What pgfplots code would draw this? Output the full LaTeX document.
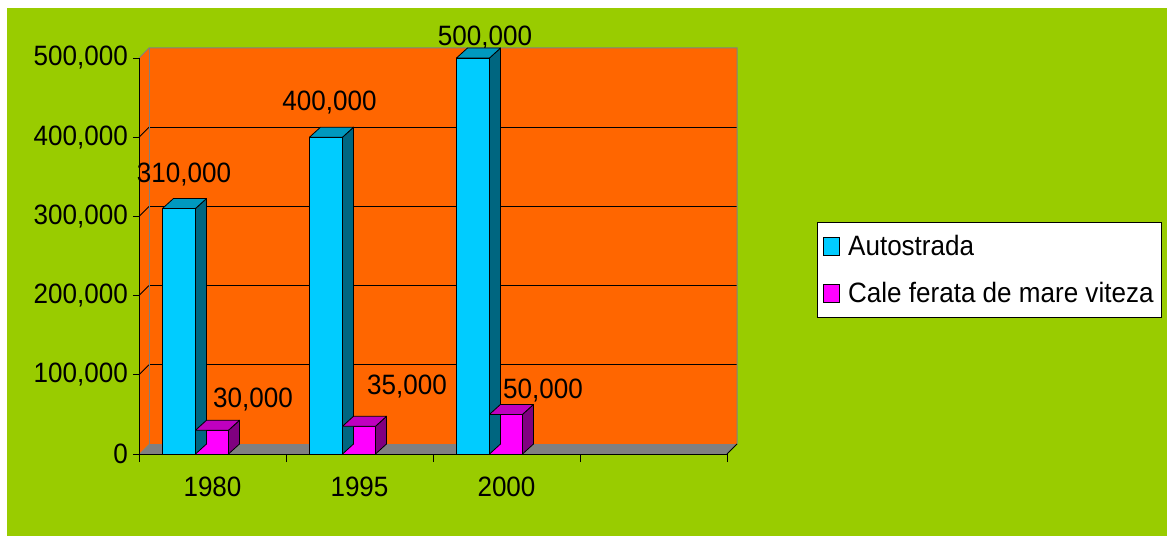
\documentclass[border=0pt]{standalone}
\usepackage{pgfplots}
\usepackage{pgfplotstable}
\pgfplotsset{compat=1.18}
\usepackage{fontspec}
\setmainfont{Liberation Sans}
\newfontfamily\chartfont[FakeStretch=0.93]{Liberation Sans}
\newcommand\bigfont{\chartfont\fontsize{28}{33}\selectfont}
\definecolor{greenbg}{HTML}{99CC00}
\definecolor{orangec}{HTML}{FF6600}
\definecolor{cyanc}{HTML}{00CCFF}
\definecolor{cyanside}{HTML}{006680}
\definecolor{cyantop}{HTML}{0099BF}
\definecolor{magc}{HTML}{FF00FF}
\definecolor{magside}{HTML}{800080}
\definecolor{magtop}{HTML}{BF00BF}
\definecolor{wallgray}{HTML}{808080}

\pgfplotstableread{
x y
0.5 310000
1.5 400000
2.5 500000
}\autotable
\pgfplotstableread{
x y
0.5 30000
1.5 35000
2.5 50000
}\railtable

\pgfplotsset{
  bar3d/.style n args={4}{%
    forget plot, only marks, scatter, mark=text, text mark={},
    visualization depends on={rawy \as \ry},
    scatter/@pre marker code/.code={%
      \begingroup
      \pgfkeys{/pgf/fpu=true,/pgf/fpu/output format=fixed}%
      \pgfmathparse{\ry*0.000792}%
      \xdef\barh{\pgfmathresult pt}%
      \endgroup
      \filldraw[fill=#3,draw=black,line width=0.8pt,line join=round]
        (#2,0pt) -- ({#2+11pt},10pt) -- ({#2+11pt},{10pt-\barh}) -- (#2,-\barh) -- cycle;
      \filldraw[fill=#4,draw=black,line width=0.8pt,line join=round]
        (#1,0pt) -- ({#1+11pt},10pt) -- ({#2+11pt},10pt) -- (#2,0pt) -- cycle;
    },
    scatter/@post marker code/.code={},
  },
}

\begin{document}
\begin{tikzpicture}
\useasboundingbox (0,0) rectangle (1167pt,536pt);
\fill[white] (0,0) rectangle (1167pt,536pt);
\fill[greenbg] (7pt,0) rectangle (1167pt,528pt);
\begin{axis}[
  at={(139pt,82pt)}, anchor=south west,
  scale only axis, width=588pt, height=396pt,
  xmin=0, xmax=4, ymin=0, ymax=500000,
  clip=false, axis on top,
  axis x line*=bottom, axis y line*=left,
  axis line style={black, line width=0.8pt},
  xtick={0.5,1.5,2.5}, xticklabels={1980,1995,2000},
  minor xtick={0,1,2,3,4},
  ytick={0,100000,200000,300000,400000,500000},
  scaled y ticks=false,
  tick align=outside,
  major tick length=6pt, minor tick length=8pt,
  major x tick style={draw=none},
  minor x tick style={draw=black, line width=0.8pt},
  major y tick style={draw=black, line width=0.8pt},
  tick label style={font=\bigfont},
  yticklabel style={/pgf/number format/fixed, /pgf/number format/1000 sep={,}, /pgf/number format/assume math mode=true, inner sep=0pt, xshift=-5pt},
  xticklabel style={yshift=-13pt},
  legend style={at={(1.153,0.586)}, anchor=north west, draw=black, fill=white, font=\bigfont, line width=0.8pt, inner xsep=6pt, inner ysep=11pt, row sep=21pt,
    /tikz/every odd column/.append style={column sep=6pt}},
  legend cell align=left,
]
% back wall, side wall, floor
\fill[orangec] ([shift={(10pt,10pt)}]axis cs:0,0) rectangle ([shift={(10pt,10pt)}]axis cs:4,500000);
\fill[orangec] (axis cs:0,0) -- ([shift={(10pt,10pt)}]axis cs:0,0) -- ([shift={(10pt,10pt)}]axis cs:0,500000) -- (axis cs:0,500000) -- cycle;
\fill[wallgray] (axis cs:0,0) -- ([shift={(10pt,10pt)}]axis cs:0,0) -- ([shift={(10pt,10pt)}]axis cs:4,0) -- (axis cs:4,0) -- cycle;
\pgfplotsinvokeforeach{100000,200000,300000,400000}{
  \draw[black, line width=0.9pt] ([shift={(10pt,10pt)}]axis cs:0,#1) -- ([shift={(10pt,10pt)}]axis cs:4,#1);
  \draw[black, line width=0.9pt] (axis cs:0,#1) -- ([shift={(10pt,10pt)}]axis cs:0,#1);
}
\draw[wallgray, line width=1pt] (axis cs:0,500000) -- ([shift={(10pt,10pt)}]axis cs:0,500000) -- ([shift={(10pt,10pt)}]axis cs:4,500000) -- ([shift={(10pt,10pt)}]axis cs:4,0);
\draw[wallgray, line width=1pt] ([shift={(10pt,10pt)}]axis cs:0,0) -- ([shift={(10pt,10pt)}]axis cs:0,500000);
\draw[black, line width=0.8pt] (axis cs:4,0) -- ([shift={(10pt,10pt)}]axis cs:4,0);

\addplot[ybar, bar width=33pt, bar shift=-33.5pt, fill=cyanc, draw=black, line width=0.8pt,
  legend image code/.code={\draw[fill=cyanc,draw=black,line width=0.8pt] (0pt,-9pt) rectangle (16pt,9pt);}]
  table[x=x,y=y]{\autotable};
\addlegendentry{Autostrada}
\addplot[bar3d={-50pt}{-17pt}{cyanside}{cyantop}] table[x=x,y=y]{\autotable};
\addplot[ybar, bar width=33pt, bar shift=-0.5pt, fill=magc, draw=black, line width=0.8pt,
  legend image code/.code={\draw[fill=magc,draw=black,line width=0.8pt] (0pt,-9pt) rectangle (16pt,9pt);}]
  table[x=x,y=y]{\railtable};
\addlegendentry{Cale ferata de mare viteza}
\addplot[bar3d={-17pt}{16pt}{magside}{magtop}] table[x=x,y=y]{\railtable};

\node[anchor=base, font=\bigfont, inner sep=0pt] at (axis cs:0.306,343400) {310,000};
\node[anchor=base, font=\bigfont, inner sep=0pt] at (axis cs:1.296,434300) {400,000};
\node[anchor=base, font=\bigfont, inner sep=0pt] at (axis cs:2.354,516400) {500,000};
\node[anchor=base, font=\bigfont, inner sep=0pt] at (axis cs:0.776,59300) {30,000};
\node[anchor=base, font=\bigfont, inner sep=0pt] at (axis cs:1.823,74500) {35,000};
\node[anchor=base, font=\bigfont, inner sep=0pt] at (axis cs:2.748,70700) {50,000};
\end{axis}
\end{tikzpicture}
\end{document}
